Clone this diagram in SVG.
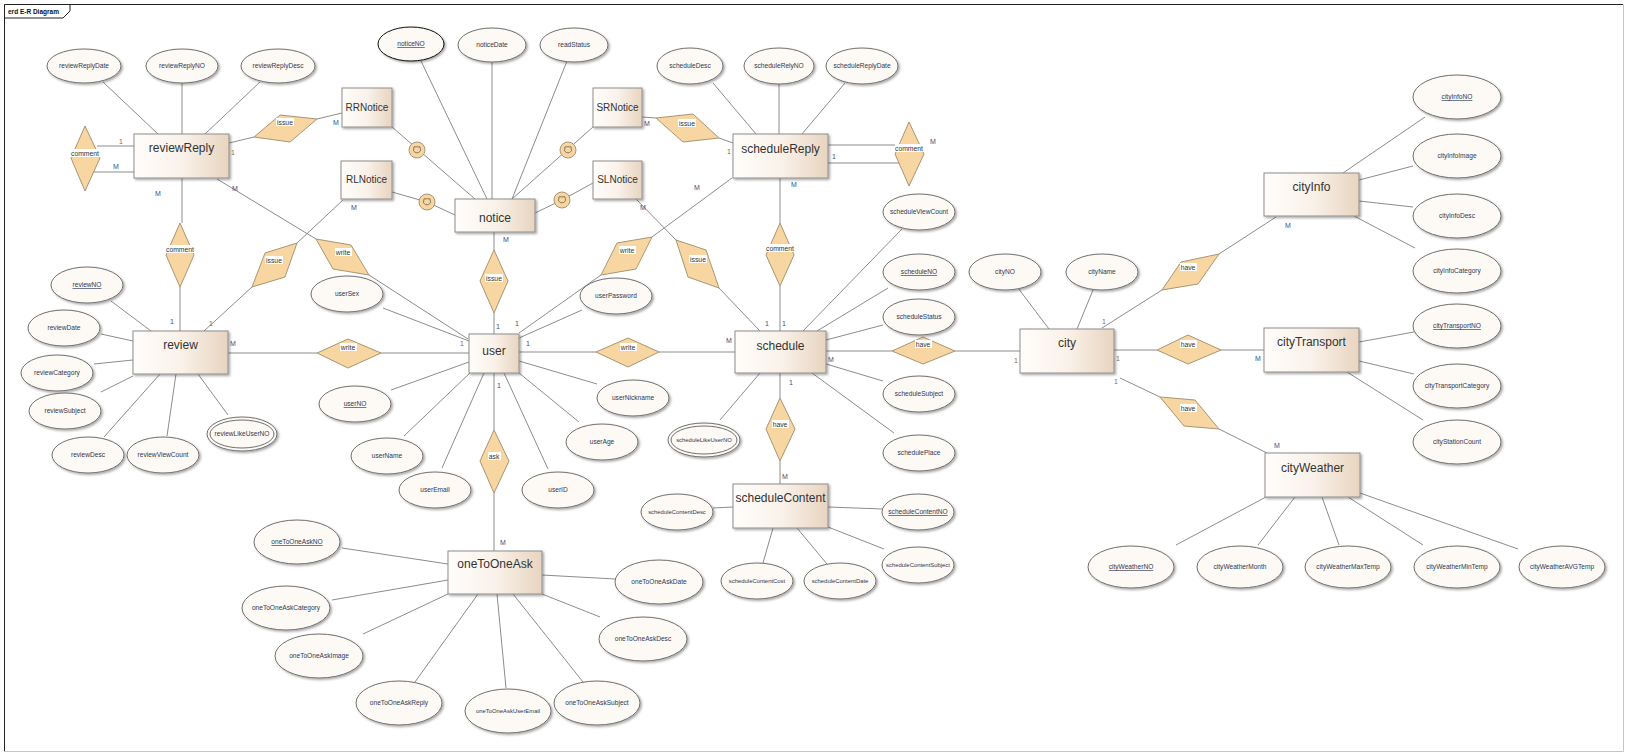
<svg xmlns="http://www.w3.org/2000/svg" width="1629" height="756" viewBox="0 0 1629 756">
<defs>
<linearGradient id="eg" x1="0" y1="0" x2="1" y2="0">
<stop offset="0" stop-color="#fffdfb"/><stop offset="0.5" stop-color="#faf2ea"/><stop offset="1" stop-color="#e8d4c0"/>
</linearGradient>
<filter id="ds" x="-20%" y="-20%" width="150%" height="160%">
<feDropShadow dx="1.5" dy="1.5" stdDeviation="0.9" flood-color="#000" flood-opacity="0.35"/>
</filter>
<g id="sub"><circle r="8" fill="#f7d6a2" stroke="#a99574"/><path d="M-3,-3.2 L3,-3.2 L3.6,0.8 Q0,5 -3.6,0.8 Z" fill="none" stroke="#6f6250" stroke-width="0.8"/></g>
<style>
.e rect{fill:url(#eg);stroke:#8d8d8d;stroke-width:1;filter:url(#ds)}
.e text{font-family:"Liberation Sans",Arial,sans-serif;font-size:12px;fill:#333;text-anchor:middle}
.e.s text{font-size:10px}
.a ellipse{fill:#fdf9f5;stroke:#707070;stroke-width:1;filter:url(#ds)}
.a ellipse.in{filter:none}
.a text{font-family:"Liberation Sans",Arial,sans-serif;font-size:6.6px;fill:#2f3850;text-anchor:middle}
.a text.n{font-size:5.9px}
.a.u text{text-decoration:underline}
.a.k ellipse{stroke:#111}
.r polygon{fill:#f7d6a2;stroke:#a99574;stroke-width:1}
.r rect{fill:#fff}
.r text{font-family:"Liberation Sans",Arial,sans-serif;font-size:6.8px;fill:#333;text-anchor:middle}
.c line{stroke:#8c8c8c;stroke-width:1}
.m text{font-family:"Liberation Sans",Arial,sans-serif;font-size:7px;text-anchor:middle}
.m .b{fill:#3a4f86}
.m .o{fill:#8b6a3c}
.fr{font-family:"Liberation Sans",Arial,sans-serif;font-size:6.5px;font-weight:bold;fill:#111}
</style>
</defs>
<rect width="1629" height="756" fill="#fff"/>
<g id="frame">
<path d="M4.5,751.5 V4.5 H1623" fill="none" stroke="#222"/>
<path d="M1623.5,4.5 V751.5 H4.5" fill="none" stroke="#c4c4c4"/>
<polygon points="4.5,4.5 70,4.5 70,11 63,18 4.5,18" fill="#fff" stroke="#222"/>
<text class="fr" x="8" y="13.5">erd E-R Diagram</text>
</g>

<g id="connectors" class="c">
<line x1="103" y1="82" x2="158" y2="134"/>
<line x1="182" y1="83" x2="182" y2="134"/>
<line x1="260" y1="82" x2="205" y2="134"/>
<line x1="97" y1="146" x2="134" y2="146"/>
<line x1="86" y1="172" x2="134" y2="172"/>
<line x1="229" y1="143" x2="254" y2="137"/>
<line x1="317" y1="119" x2="342" y2="113"/>
<line x1="182" y1="178" x2="182" y2="223"/>
<line x1="180" y1="287" x2="180" y2="331"/>
<line x1="217" y1="179" x2="316" y2="239"/>
<line x1="369" y1="275" x2="468" y2="339"/>
<line x1="421" y1="61" x2="487" y2="199"/>
<line x1="492" y1="62" x2="492" y2="199"/>
<line x1="567" y1="61" x2="512" y2="199"/>
<line x1="392" y1="127" x2="475" y2="199"/>
<line x1="392" y1="192" x2="427" y2="202"/>
<line x1="427" y1="202" x2="455" y2="215"/>
<line x1="593" y1="127" x2="512" y2="199"/>
<line x1="593" y1="183" x2="562" y2="200"/>
<line x1="562" y1="200" x2="535" y2="213"/>
<line x1="494" y1="232" x2="494" y2="250"/>
<line x1="494" y1="313" x2="494" y2="334"/>
<line x1="713" y1="83" x2="756" y2="134"/>
<line x1="779" y1="84" x2="779" y2="134"/>
<line x1="845" y1="83" x2="802" y2="134"/>
<line x1="828" y1="145" x2="897" y2="145"/>
<line x1="828" y1="163" x2="900" y2="163"/>
<line x1="642" y1="117" x2="656" y2="118"/>
<line x1="719" y1="138" x2="733" y2="143"/>
<line x1="780" y1="178" x2="780" y2="223"/>
<line x1="780" y1="286" x2="780" y2="331"/>
<line x1="732" y1="178" x2="652" y2="237"/>
<line x1="601" y1="275" x2="519" y2="333"/>
<line x1="636" y1="199" x2="676" y2="240"/>
<line x1="719" y1="288" x2="760" y2="331"/>
<line x1="343" y1="200" x2="297" y2="243"/>
<line x1="252" y1="287" x2="204" y2="331"/>
<line x1="111" y1="301" x2="151" y2="331"/>
<line x1="101" y1="334" x2="133" y2="341"/>
<line x1="94" y1="364" x2="133" y2="360"/>
<line x1="101" y1="392" x2="133" y2="376"/>
<line x1="104" y1="437" x2="160" y2="374"/>
<line x1="167" y1="436" x2="176" y2="374"/>
<line x1="228" y1="415" x2="198" y2="374"/>
<line x1="228" y1="353" x2="317" y2="353"/>
<line x1="381" y1="353" x2="469" y2="353"/>
<line x1="383" y1="308" x2="469" y2="341"/>
<line x1="391" y1="390" x2="469" y2="362"/>
<line x1="404" y1="436" x2="471" y2="372"/>
<line x1="442" y1="468" x2="484" y2="373"/>
<line x1="548" y1="469" x2="504" y2="373"/>
<line x1="579" y1="422" x2="519" y2="373"/>
<line x1="597" y1="384" x2="519" y2="361"/>
<line x1="582" y1="310" x2="519" y2="338"/>
<line x1="519" y1="352" x2="596" y2="352"/>
<line x1="659" y1="352" x2="735" y2="352"/>
<line x1="494" y1="373" x2="494" y2="430"/>
<line x1="494" y1="493" x2="494" y2="551"/>
<line x1="720" y1="420" x2="760" y2="373"/>
<line x1="780" y1="373" x2="780" y2="398"/>
<line x1="780" y1="461" x2="780" y2="484"/>
<line x1="902" y1="229" x2="803" y2="331"/>
<line x1="888" y1="288" x2="817" y2="331"/>
<line x1="883" y1="325" x2="826" y2="340"/>
<line x1="826" y1="351" x2="892" y2="351"/>
<line x1="955" y1="351" x2="1020" y2="351"/>
<line x1="883" y1="381" x2="826" y2="364"/>
<line x1="894" y1="433" x2="812" y2="373"/>
<line x1="1018" y1="288" x2="1049" y2="329"/>
<line x1="1093" y1="290" x2="1077" y2="329"/>
<line x1="1102" y1="328" x2="1162" y2="290"/>
<line x1="1219" y1="254" x2="1276" y2="217"/>
<line x1="1114" y1="350" x2="1157" y2="350"/>
<line x1="1221" y1="350" x2="1264" y2="350"/>
<line x1="1120" y1="378" x2="1160" y2="397"/>
<line x1="1219" y1="429" x2="1267" y2="453"/>
<line x1="1425" y1="117" x2="1343" y2="173"/>
<line x1="1413" y1="166" x2="1359" y2="180"/>
<line x1="1413" y1="207" x2="1359" y2="201"/>
<line x1="1415" y1="248" x2="1354" y2="216"/>
<line x1="1359" y1="342" x2="1414" y2="332"/>
<line x1="1359" y1="361" x2="1414" y2="374"/>
<line x1="1347" y1="372" x2="1423" y2="420"/>
<line x1="1266" y1="497" x2="1176" y2="545"/>
<line x1="1295" y1="497" x2="1258" y2="545"/>
<line x1="1322" y1="497" x2="1339" y2="545"/>
<line x1="1348" y1="497" x2="1423" y2="545"/>
<line x1="1360" y1="493" x2="1518" y2="549"/>
<line x1="713" y1="508" x2="733" y2="507"/>
<line x1="828" y1="507" x2="883" y2="509"/>
<line x1="773" y1="528" x2="763" y2="563"/>
<line x1="797" y1="528" x2="827" y2="564"/>
<line x1="828" y1="527" x2="884" y2="549"/>
<line x1="342" y1="548" x2="448" y2="564"/>
<line x1="332" y1="600" x2="448" y2="580"/>
<line x1="363" y1="634" x2="448" y2="594"/>
<line x1="415" y1="682" x2="478" y2="594"/>
<line x1="506" y1="688" x2="497" y2="594"/>
<line x1="583" y1="682" x2="513" y2="594"/>
<line x1="542" y1="575" x2="615" y2="579"/>
<line x1="542" y1="594" x2="600" y2="617"/>
</g>

<g id="subset-symbols">
<use href="#sub" x="417" y="150"/>
<use href="#sub" x="427" y="202"/>
<use href="#sub" x="568" y="150"/>
<use href="#sub" x="562" y="200"/>
</g>

<g id="relationships" class="r">
<g id="rel-comment-rr"><polygon points="85,126 100,158 85,191 71,158"/><rect x="71" y="149" width="29" height="8"/><text x="85" y="155.5">comment</text></g>
<g id="rel-issue-rr"><polygon points="254,137 280,115 317,119 290,142"/><rect x="276" y="118" width="18" height="8"/><text x="285" y="124.5">issue</text></g>
<g id="rel-comment-review"><polygon points="180,223 194,255 180,287 166,255"/><rect x="166" y="245" width="29" height="8"/><text x="180" y="251.5">comment</text></g>
<g id="rel-issue-rl"><polygon points="297,243 265,253 252,287 285,277"/><rect x="265" y="256" width="18" height="8"/><text x="274" y="262.5">issue</text></g>
<g id="rel-write-rr"><polygon points="316,239 351,245 369,275 333,269"/><rect x="335" y="248" width="17" height="8"/><text x="343" y="254.5">write</text></g>
<g id="rel-issue-notice"><polygon points="494,250 508,281 494,313 480,281"/><rect x="485" y="274" width="18" height="8"/><text x="494" y="280.5">issue</text></g>
<g id="rel-write-sr"><polygon points="652,237 617,243 601,275 636,269"/><rect x="619" y="246" width="17" height="8"/><text x="627" y="252.5">write</text></g>
<g id="rel-issue-sl"><polygon points="676,240 706,250 719,288 688,277"/><rect x="689" y="255" width="18" height="8"/><text x="698" y="261.5">issue</text></g>
<g id="rel-issue-sr"><polygon points="656,118 693,114 719,138 683,142"/><rect x="678" y="119" width="18" height="8"/><text x="687" y="125.5">issue</text></g>
<g id="rel-comment-sr"><polygon points="909,122 924,154 909,186 895,154"/><rect x="895" y="144" width="29" height="8"/><text x="909" y="150.5">comment</text></g>
<g id="rel-comment-schedule"><polygon points="780,223 794,255 780,286 766,255"/><rect x="766" y="244" width="29" height="8"/><text x="780" y="250.5">comment</text></g>
<g id="rel-write-review"><polygon points="317,353 348,339 381,353 348,368"/><rect x="340" y="343" width="17" height="8"/><text x="348" y="349.5">write</text></g>
<g id="rel-write-schedule"><polygon points="596,352 628,338 659,352 628,367"/><rect x="620" y="343" width="17" height="8"/><text x="628" y="349.5">write</text></g>
<g id="rel-ask"><polygon points="494,430 509,461 494,493 480,461"/><rect x="488" y="452" width="13" height="8"/><text x="494" y="458.5">ask</text></g>
<g id="rel-have-content"><polygon points="780,398 795,429 780,461 766,429"/><rect x="772" y="420" width="17" height="8"/><text x="780" y="426.5">have</text></g>
<g id="rel-have-city"><polygon points="892,351 923,337 955,351 923,364"/><rect x="915" y="340" width="17" height="8"/><text x="923" y="346.5">have</text></g>
<g id="rel-have-info"><polygon points="1162,290 1181,262 1219,254 1198,284"/><rect x="1180" y="263" width="17" height="8"/><text x="1188" y="269.5">have</text></g>
<g id="rel-have-transport"><polygon points="1157,350 1188,335 1221,350 1188,364"/><rect x="1180" y="340" width="17" height="8"/><text x="1188" y="346.5">have</text></g>
<g id="rel-have-weather"><polygon points="1160,397 1195,400 1219,429 1184,426"/><rect x="1180" y="404" width="17" height="8"/><text x="1188" y="410.5">have</text></g>
</g>

<g id="entities">
<g id="reviewReply" class="e"><rect x="134" y="134" width="95" height="44"/><text x="181.5" y="152">reviewReply</text></g>
<g id="RRNotice" class="e s"><rect x="342" y="88" width="50" height="39"/><text x="367" y="110.5">RRNotice</text></g>
<g id="RLNotice" class="e s"><rect x="341" y="161" width="51" height="38"/><text x="366.5" y="182.5">RLNotice</text></g>
<g id="notice" class="e"><rect x="455" y="199" width="80" height="33"/><text x="495" y="222">notice</text></g>
<g id="SRNotice" class="e s"><rect x="593" y="88" width="49" height="39"/><text x="617.5" y="110.5">SRNotice</text></g>
<g id="SLNotice" class="e s"><rect x="593" y="161" width="49" height="38"/><text x="617.5" y="182.5">SLNotice</text></g>
<g id="scheduleReply" class="e"><rect x="733" y="134" width="95" height="44"/><text x="780.5" y="153">scheduleReply</text></g>
<g id="review" class="e"><rect x="133" y="331" width="95" height="43"/><text x="180.5" y="349">review</text></g>
<g id="user" class="e"><rect x="469" y="334" width="50" height="39"/><text x="494" y="355">user</text></g>
<g id="schedule" class="e"><rect x="735" y="331" width="91" height="42"/><text x="780.5" y="350">schedule</text></g>
<g id="city" class="e"><rect x="1020" y="329" width="94" height="44"/><text x="1067" y="347">city</text></g>
<g id="cityInfo" class="e"><rect x="1264" y="173" width="95" height="43"/><text x="1311.5" y="191">cityInfo</text></g>
<g id="cityTransport" class="e"><rect x="1264" y="328" width="95" height="44"/><text x="1311.5" y="346">cityTransport</text></g>
<g id="cityWeather" class="e"><rect x="1265" y="453" width="95" height="44"/><text x="1312.5" y="472">cityWeather</text></g>
<g id="scheduleContent" class="e"><rect x="733" y="484" width="95" height="44"/><text x="780.5" y="502">scheduleContent</text></g>
<g id="oneToOneAsk" class="e"><rect x="448" y="551" width="94" height="43"/><text x="495" y="568">oneToOneAsk</text></g>
</g>

<g id="attributes">
<g id="a-reviewReplyDate" class="a"><ellipse cx="84" cy="66" rx="37" ry="17"/><text x="84" y="68.3">reviewReplyDate</text></g>
<g id="a-reviewReplyNO" class="a"><ellipse cx="182" cy="66" rx="36" ry="17"/><text x="182" y="68.3">reviewReplyNO</text></g>
<g id="a-reviewReplyDesc" class="a"><ellipse cx="278" cy="66" rx="37" ry="17"/><text x="278" y="68.3">reviewReplyDesc</text></g>
<g id="a-noticeNO" class="a u k"><ellipse cx="411" cy="44" rx="33" ry="17"/><text x="411" y="46.3">noticeNO</text></g>
<g id="a-noticeDate" class="a"><ellipse cx="492" cy="45" rx="34" ry="17"/><text x="492" y="47.3">noticeDate</text></g>
<g id="a-readStatus" class="a"><ellipse cx="574" cy="45" rx="34" ry="17"/><text x="574" y="47.3">readStatus</text></g>
<g id="a-scheduleDesc" class="a"><ellipse cx="690" cy="66" rx="33" ry="18"/><text x="690" y="68.3">scheduleDesc</text></g>
<g id="a-scheduleRelyNO" class="a"><ellipse cx="779" cy="66" rx="35" ry="18"/><text x="779" y="68.3">scheduleRelyNO</text></g>
<g id="a-scheduleReplyDate" class="a"><ellipse cx="862" cy="66" rx="36" ry="18"/><text x="862" y="68.3">scheduleReplyDate</text></g>
<g id="a-reviewNO" class="a u"><ellipse cx="87" cy="285" rx="36" ry="18"/><text x="87" y="287.3">reviewNO</text></g>
<g id="a-reviewDate" class="a"><ellipse cx="64" cy="328" rx="36" ry="18"/><text x="64" y="330.3">reviewDate</text></g>
<g id="a-reviewCategory" class="a"><ellipse cx="57" cy="373" rx="36" ry="18"/><text x="57" y="375.3">reviewCategory</text></g>
<g id="a-reviewSubject" class="a"><ellipse cx="65" cy="411" rx="36" ry="18"/><text x="65" y="413.3">reviewSubject</text></g>
<g id="a-reviewDesc" class="a"><ellipse cx="88" cy="455" rx="36" ry="18"/><text x="88" y="457.3">reviewDesc</text></g>
<g id="a-reviewViewCount" class="a"><ellipse cx="163" cy="455" rx="36" ry="18"/><text x="163" y="457.3">reviewViewCount</text></g>
<g id="a-reviewLikeUserNO" class="a"><ellipse cx="242" cy="434" rx="35" ry="17"/><ellipse class="in" cx="242" cy="434" rx="32" ry="14"/><text x="242" y="436.3">reviewLikeUserNO</text></g>
<g id="a-userSex" class="a"><ellipse cx="347" cy="294" rx="36" ry="18"/><text x="347" y="296.3">userSex</text></g>
<g id="a-userPassword" class="a"><ellipse cx="616" cy="296" rx="36" ry="18"/><text x="616" y="298.3">userPassword</text></g>
<g id="a-userNO" class="a u"><ellipse cx="355" cy="404" rx="36" ry="18"/><text x="355" y="406.3">userNO</text></g>
<g id="a-userNickname" class="a"><ellipse cx="633" cy="398" rx="36" ry="18"/><text x="633" y="400.3">userNickname</text></g>
<g id="a-userName" class="a"><ellipse cx="387" cy="456" rx="36" ry="18"/><text x="387" y="458.3">userName</text></g>
<g id="a-userAge" class="a"><ellipse cx="602" cy="442" rx="36" ry="18"/><text x="602" y="444.3">userAge</text></g>
<g id="a-userEmail" class="a"><ellipse cx="435" cy="490" rx="36" ry="18"/><text x="435" y="492.3">userEmail</text></g>
<g id="a-userID" class="a"><ellipse cx="558" cy="490" rx="36" ry="18"/><text x="558" y="492.3">userID</text></g>
<g id="a-scheduleViewCount" class="a"><ellipse cx="919" cy="212" rx="36" ry="18"/><text x="919" y="214.3">scheduleViewCount</text></g>
<g id="a-scheduleNO" class="a u"><ellipse cx="919" cy="272" rx="36" ry="18"/><text x="919" y="274.3">scheduleNO</text></g>
<g id="a-scheduleStatus" class="a"><ellipse cx="919" cy="317" rx="36" ry="18"/><text x="919" y="319.3">scheduleStatus</text></g>
<g id="a-scheduleSubject" class="a"><ellipse cx="919" cy="394" rx="36" ry="18"/><text x="919" y="396.3">scheduleSubject</text></g>
<g id="a-schedulePlace" class="a"><ellipse cx="919" cy="453" rx="36" ry="18"/><text x="919" y="455.3">schedulePlace</text></g>
<g id="a-scheduleLikeUserNO" class="a"><ellipse cx="704" cy="440" rx="36" ry="17"/><ellipse class="in" cx="704" cy="440" rx="33" ry="14"/><text class="n" x="704" y="442.3">scheduleLikeUserNO</text></g>
<g id="a-cityNO" class="a"><ellipse cx="1005" cy="272" rx="36" ry="18"/><text x="1005" y="274.3">cityNO</text></g>
<g id="a-cityName" class="a"><ellipse cx="1102" cy="272" rx="36" ry="18"/><text x="1102" y="274.3">cityName</text></g>
<g id="a-cityInfoNO" class="a u"><ellipse cx="1457" cy="97" rx="44" ry="22"/><text x="1457" y="99.3">cityInfoNO</text></g>
<g id="a-cityInfoImage" class="a"><ellipse cx="1457" cy="156" rx="44" ry="22"/><text x="1457" y="158.3">cityInfoImage</text></g>
<g id="a-cityInfoDesc" class="a"><ellipse cx="1457" cy="216" rx="44" ry="22"/><text x="1457" y="218.3">cityInfoDesc</text></g>
<g id="a-cityInfoCategory" class="a"><ellipse cx="1457" cy="271" rx="44" ry="22"/><text x="1457" y="273.3">cityInfoCategory</text></g>
<g id="a-cityTransportNO" class="a u"><ellipse cx="1457" cy="326" rx="44" ry="22"/><text x="1457" y="328.3">cityTransportNO</text></g>
<g id="a-cityTransportCategory" class="a"><ellipse cx="1457" cy="386" rx="44" ry="22"/><text x="1457" y="388.3">cityTransportCategory</text></g>
<g id="a-cityStationCount" class="a"><ellipse cx="1457" cy="442" rx="44" ry="22"/><text x="1457" y="444.3">cityStationCount</text></g>
<g id="a-cityWeatherNO" class="a u"><ellipse cx="1131" cy="567" rx="43" ry="21"/><text x="1131" y="569.3">cityWeatherNO</text></g>
<g id="a-cityWeatherMonth" class="a"><ellipse cx="1240" cy="567" rx="43" ry="21"/><text x="1240" y="569.3">cityWeatherMonth</text></g>
<g id="a-cityWeatherMaxTemp" class="a"><ellipse cx="1348" cy="567" rx="43" ry="21"/><text x="1348" y="569.3">cityWeatherMaxTemp</text></g>
<g id="a-cityWeatherMinTemp" class="a"><ellipse cx="1457" cy="567" rx="43" ry="21"/><text x="1457" y="569.3">cityWeatherMinTemp</text></g>
<g id="a-cityWeatherAVGTemp" class="a"><ellipse cx="1562" cy="567" rx="43" ry="21"/><text x="1562" y="569.3">cityWeatherAVGTemp</text></g>
<g id="a-scheduleContentDesc" class="a"><ellipse cx="677" cy="512" rx="36" ry="18"/><text class="n" x="677" y="514.3">scheduleContentDesc</text></g>
<g id="a-scheduleContentNO" class="a u"><ellipse cx="918" cy="512" rx="36" ry="18"/><text x="918" y="514.3">scheduleContentNO</text></g>
<g id="a-scheduleContentCost" class="a"><ellipse cx="757" cy="581" rx="36" ry="18"/><text class="n" x="757" y="583.3">scheduleContentCost</text></g>
<g id="a-scheduleContentDate" class="a"><ellipse cx="840" cy="581" rx="36" ry="18"/><text class="n" x="840" y="583.3">scheduleContentDate</text></g>
<g id="a-scheduleContentSubject" class="a"><ellipse cx="918" cy="565" rx="36" ry="18"/><text class="n" x="918" y="567.3">scheduleContentSubject</text></g>
<g id="a-oneToOneAskNO" class="a u"><ellipse cx="297" cy="542" rx="43" ry="22"/><text x="297" y="544.3">oneToOneAskNO</text></g>
<g id="a-oneToOneAskCategory" class="a"><ellipse cx="286" cy="608" rx="44" ry="22"/><text x="286" y="610.3">oneToOneAskCategory</text></g>
<g id="a-oneToOneAskImage" class="a"><ellipse cx="319" cy="656" rx="44" ry="22"/><text x="319" y="658.3">oneToOneAskImage</text></g>
<g id="a-oneToOneAskReply" class="a"><ellipse cx="399" cy="703" rx="43" ry="22"/><text x="399" y="705.3">oneToOneAskReply</text></g>
<g id="a-oneToOneAskUserEmail" class="a"><ellipse cx="508" cy="711" rx="43" ry="22"/><text class="n" x="508" y="713.3">oneToOneAskUserEmail</text></g>
<g id="a-oneToOneAskSubject" class="a"><ellipse cx="597" cy="703" rx="43" ry="22"/><text x="597" y="705.3">oneToOneAskSubject</text></g>
<g id="a-oneToOneAskDate" class="a"><ellipse cx="659" cy="582" rx="44" ry="22"/><text x="659" y="584.3">oneToOneAskDate</text></g>
<g id="a-oneToOneAskDesc" class="a"><ellipse cx="643" cy="639" rx="44" ry="22"/><text x="643" y="641.3">oneToOneAskDesc</text></g>
</g>

<g id="cardinalities" class="m">
<text class="o" x="121" y="143.5">1</text><text class="b" x="116" y="168.5">M</text>
<text class="o" x="233" y="154.5">1</text><text class="b" x="336" y="124.5">M</text>
<text class="b" x="158" y="195.5">M</text><text class="b" x="235" y="190.5">M</text>
<text class="b" x="354" y="209.5">M</text>
<text class="b" x="172" y="323.5">1</text><text class="o" x="211" y="325.5">1</text><text class="b" x="233" y="345.5">M</text>
<text class="b" x="506" y="241.5">M</text>
<text class="o" x="462" y="345.5">1</text><text class="b" x="498" y="328.5">1</text><text class="b" x="517" y="325.5">1</text><text class="b" x="528" y="345.5">1</text><text class="b" x="499" y="387.5">1</text>
<text class="b" x="503" y="544.5">M</text>
<text class="b" x="647" y="125.5">M</text><text class="o" x="729" y="153.5">1</text>
<text class="b" x="643" y="209.5">M</text><text class="b" x="697" y="189.5">M</text>
<text class="b" x="794" y="186.5">M</text>
<text class="b" x="933" y="143.5">M</text><text class="b" x="834" y="158.5">1</text>
<text class="b" x="767" y="325.5">1</text><text class="b" x="784" y="325.5">1</text><text class="b" x="729" y="342.5">M</text>
<text class="b" x="791" y="384.5">1</text><text class="b" x="785" y="478.5">M</text>
<text class="b" x="831" y="361.5">M</text><text class="o" x="1016" y="362.5">1</text>
<text class="o" x="1104" y="323.5">1</text><text class="b" x="1288" y="227.5">M</text>
<text class="o" x="1118" y="360.5">1</text><text class="b" x="1258" y="360.5">M</text>
<text class="o" x="1116" y="383.5">1</text><text class="b" x="1277" y="447.5">M</text>
</g>
</svg>
